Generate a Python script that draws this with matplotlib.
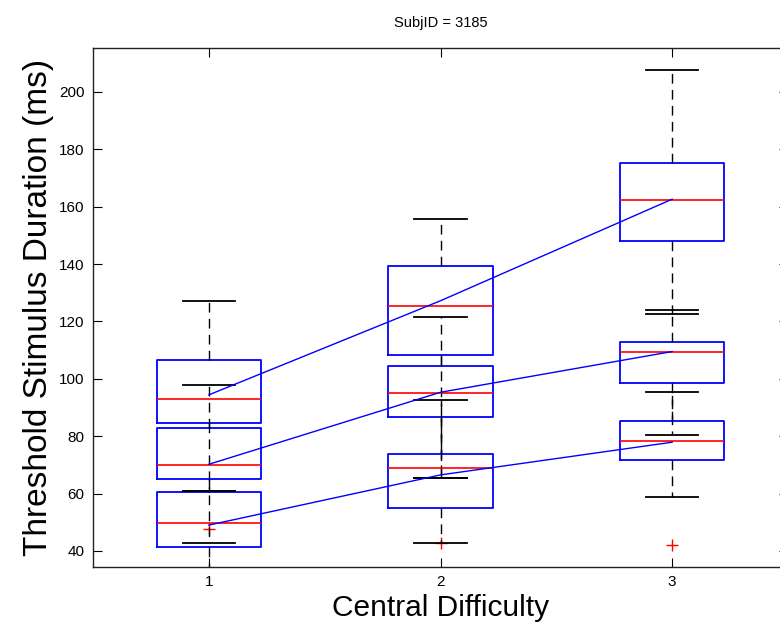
import matplotlib

matplotlib.use("Agg")
import matplotlib.pyplot as plt

plt.rcParams["font.family"] = ["Liberation Sans", "DejaVu Sans"]
plt.rcParams["lines.scale_dashes"] = False

BLUE = "#0000ff"
RED = "#ff0000"
BLACK = "#000000"

positions = [1, 2, 3]
tick_labels = ["1", "2", "3"]

# three overlaid series, one box per difficulty level
high_q1 = [84.5, 108.3, 148.2]
high_med = [93.0, 125.2, 162.3]
high_q3 = [106.6, 139.4, 175.2]
high_lo = [61.0, 65.3, 122.7]
high_hi = [127.0, 155.7, 207.6]
high_mean = [94.4, 127.2, 162.6]
high_fliers = [[47.6], [], []]

mid_q1 = [65.0, 86.6, 98.6]
mid_med = [70.0, 95.2, 109.4]
mid_q3 = [82.8, 104.5, 112.9]
mid_lo = [42.7, 65.3, 80.4]
mid_hi = [97.8, 121.7, 124.1]
mid_mean = [70.2, 95.3, 109.5]
mid_fliers = [[], [42.7], []]

low_q1 = [41.5, 54.9, 71.7]
low_med = [49.9, 68.8, 78.4]
low_q3 = [60.5, 73.8, 85.2]
low_lo = [30.0, 42.7, 58.9]
low_hi = [61.0, 92.6, 95.5]
low_mean = [49.0, 66.5, 77.9]
low_fliers = [[], [], [42.0]]

series = [
    (high_q1, high_med, high_q3, high_lo, high_hi, high_fliers, high_mean),
    (mid_q1, mid_med, mid_q3, mid_lo, mid_hi, mid_fliers, mid_mean),
    (low_q1, low_med, low_q3, low_lo, low_hi, low_fliers, low_mean),
]

fig = plt.figure(figsize=(7.8, 6.27), dpi=100)
ax = fig.add_axes([93 / 780, 60 / 627, 695 / 780, 519 / 627])

for q1, med, q3, lo, hi, fl, mean in series:
    stats = [
        dict(q1=a, med=m, q3=b, whislo=w0, whishi=w1, fliers=f)
        for a, m, b, w0, w1, f in zip(q1, med, q3, lo, hi, fl)
    ]
    ax.bxp(stats, positions=positions, widths=0.45, showfliers=True,
           manage_ticks=False,
           boxprops=dict(color=BLUE, lw=1.3),
           medianprops=dict(color=RED, lw=1.2),
           whiskerprops=dict(color=BLACK, lw=1.0, linestyle=(0, (7, 4.5))),
           capprops=dict(color=BLACK, lw=1.3),
           flierprops=dict(marker="+", markeredgecolor=RED, markersize=8,
                           markeredgewidth=1.0, linestyle="none"))

for *_, mean in series:
    ax.plot(positions, mean, color=BLUE, lw=1.0, zorder=4)

ax.set_xlim(0.5, 3.5)
ax.set_ylim(34.4, 215.3)
ax.set_xticks(positions)
ax.set_xticklabels(tick_labels)
ax.set_yticks(range(40, 201, 20))
ax.tick_params(direction="in", length=6.5, width=0.8, labelsize=11,
               top=True, right=True, pad=6, colors=BLACK)
for sp in ax.spines.values():
    sp.set_linewidth(1.0)
    sp.set_color("#222222")

ax.set_title("SubjID = 3185", fontsize=10.5, pad=15)
ax.set_xlabel("Central Difficulty", fontsize=21.5, labelpad=3)
ax.set_ylabel("Threshold Stimulus Duration (ms)", fontsize=24, labelpad=4)

fig.savefig("out.png", dpi=100, facecolor="white")
